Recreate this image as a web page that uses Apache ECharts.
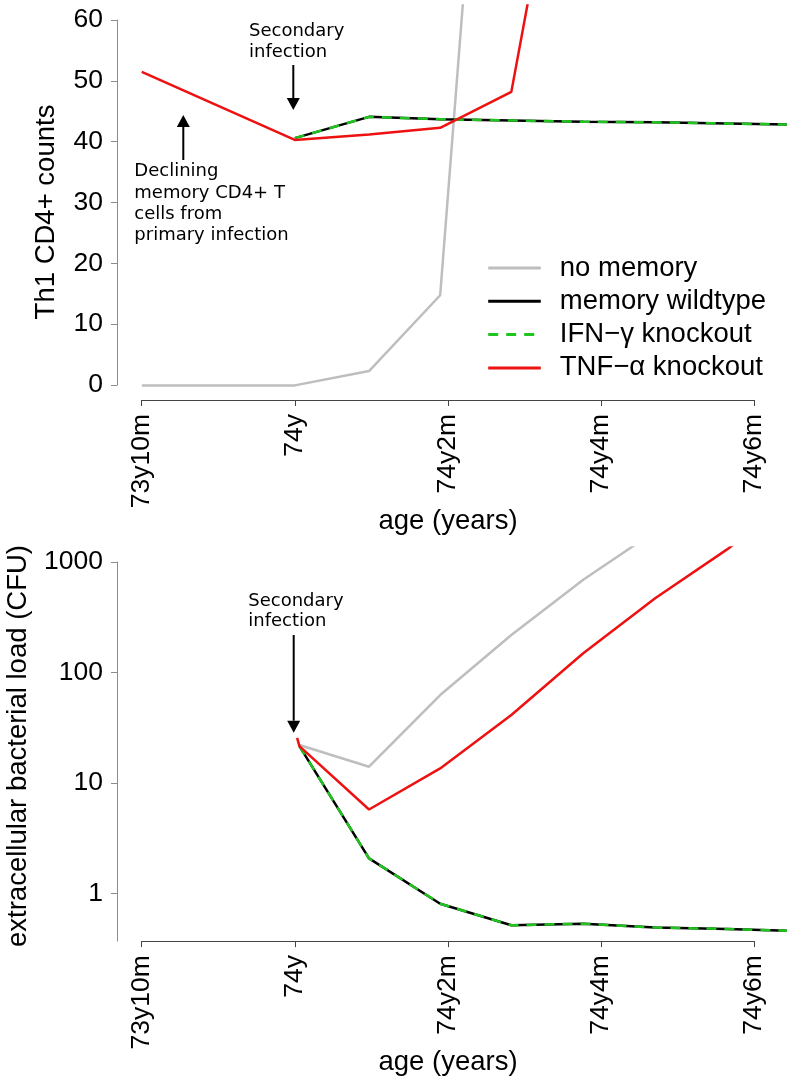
<!DOCTYPE html>
<html>
<head>
<meta charset="utf-8">
<script src="https://cdn.jsdelivr.net/npm/echarts@6/dist/echarts.min.js"></script>
<style>
  html, body { margin: 0; padding: 0; background: #fff; }
  #chart { width: 787px; height: 1085px; }
</style>
</head>
<body>
<div id="chart"></div>
<script>
// time axis: months relative to age 74y (secondary infection)
const monthsTh1 = [-2, -1, 0, 0.97, 1.9, 2.83, 3.77, 4.71, 5.65, 6.59]
const noMemoryTh1 = [0, 0, 0, 2.35, 14.8, 165, null, null, null, null]
const wildtypeTh1 = [null, null, 40.6, 44.1, 43.7, 43.5, 43.3, 43.2, 43.0, 42.8]
const ifngKoTh1 = [null, null, 40.6, 44.1, 43.7, 43.5, 43.3, 43.2, 43.0, 42.8]
const tnfaKoTh1 = [51.5, 45.9, 40.3, 41.2, 42.3, 48.2, 112, null, null, null]

const monthsCfu = [0.03, 0.06, 0.97, 1.9, 2.83, 3.77, 4.71, 5.65, 6.59]
const noMemoryCfu = [null, 22, 14.0, 62.4, 218, 689, 1900, null, null]
const wildtypeCfu = [null, 21.5, 2.07, 0.805, 0.513, 0.531, 0.49, 0.475, 0.455]
const ifngKoCfu = [null, 21.5, 2.07, 0.805, 0.513, 0.531, 0.49, 0.475, 0.455]
const tnfaKoCfu = [25.5, 21.5, 5.74, 13.5, 41.1, 149, 470, 1300, 4000]

const tickMonths = [-2, 0, 2, 4, 6]
const tickLabels = ['73y10m', '74y', '74y2m', '74y4m', '74y6m']
const cfuTicks = [1, 10, 100, 1000]

const seriesNames = ['no memory', 'memory wildtype', 'IFN\u2212\u03b3 knockout', 'TNF\u2212\u03b1 knockout']

const SANS = 'Liberation Sans, Arial, sans-serif'
const NOTE = 'DejaVu Sans, sans-serif'
const FS = 26.5   // tick labels
const FT = 27.5   // axis titles, legend

const chart = echarts.init(document.getElementById('chart'), null, { renderer: 'canvas' })

const pairs = (xs, ys) => xs.map((x, i) => [x, ys[i]])

const lineStyles = [
  { color: '#bebebe', width: 2.5 },
  { color: '#000000', width: 2.5 },
  { color: '#1fc41f', width: 2.5, type: [10, 8] },
  { color: '#ee1111', width: 2.5 },
]

const makeSeries = (axisIdx, xs, lists) =>
  lists.map((ys, i) => ({
    name: seriesNames[i],
    type: 'line',
    xAxisIndex: axisIdx,
    yAxisIndex: axisIdx,
    data: pairs(xs, ys),
    showSymbol: false,
    symbol: 'none',
    connectNulls: false,
    lineStyle: lineStyles[i],
    itemStyle: { color: lineStyles[i].color },
    animation: false,
    z: 2 + i,
  }))

const xVisible = {
  type: 'value',
  min: -2,
  max: 6,
  interval: 2,
  axisLine: { show: true, onZero: false, lineStyle: { color: '#444', width: 1 } },
  axisTick: { show: true, length: 6, lineStyle: { color: '#444' } },
  axisLabel: {
    rotate: 90,
    margin: 14,
    fontSize: FS,
    fontFamily: SANS,
    color: '#000',
    showMinLabel: true,
    showMaxLabel: true,
    formatter: (v) => tickLabels[tickMonths.indexOf(Math.round(v))] || '',
  },
  splitLine: { show: false },
}

const yLabel = { margin: 14, fontSize: FS, fontFamily: SANS, color: '#000' }
const yLine = { show: true, onZero: false, lineStyle: { color: '#8c8c8c', width: 1 } }
const yTick = { show: true, length: 6, lineStyle: { color: '#8c8c8c' } }

const dataX = { type: 'value', min: -2.324, max: 6.42, show: false }

const arrow = (x, y1, y2) => {
  const dir = y2 > y1 ? 1 : -1
  const base = y2 - dir * 12
  return [
    { type: 'line', shape: { x1: x, y1: y1, x2: x, y2: base }, style: { stroke: '#000', lineWidth: 2 } },
    {
      type: 'polygon',
      shape: { points: [[x - 6.5, base], [x + 6.5, base], [x, y2]] },
      style: { fill: '#000' },
    },
  ]
}

const noteText = (x, y, text, lh) => ({
  type: 'text',
  x: x,
  y: y,
  style: { text: text, font: '18px ' + NOTE, fill: '#000', lineHeight: lh, textVerticalAlign: 'top' },
})

const title = (x, y, text, rot) => ({
  type: 'text',
  x: x,
  y: y,
  rotation: rot,
  style: { text: text, font: FT + 'px ' + SANS, fill: '#000', textAlign: 'center', textVerticalAlign: 'middle' },
})

const option = {
  animation: false,
  backgroundColor: '#fff',
  grid: [
    { left: 117, top: 5.4, width: 669, height: 394.6, outerBoundsMode: 'none' },
    { left: 141.7, top: 5.4, width: 612.3, height: 394.6, outerBoundsMode: 'none' },
    { left: 117, top: 20, width: 669, height: 365, outerBoundsMode: 'none' },
    { left: 117, top: 547.4, width: 669, height: 393.7, outerBoundsMode: 'none' },
    { left: 141.7, top: 547.4, width: 612.3, height: 393.7, outerBoundsMode: 'none' },
    { left: 117, top: 562, width: 669, height: 379.1, outerBoundsMode: 'none' },
  ],
  xAxis: [
    { ...dataX, gridIndex: 0 },
    { ...xVisible, gridIndex: 1 },
    { type: 'value', gridIndex: 2, show: false },
    { ...dataX, gridIndex: 3 },
    { ...xVisible, gridIndex: 4 },
    { type: 'value', gridIndex: 5, show: false },
  ],
  yAxis: [
    { type: 'value', gridIndex: 0, min: -2.4, max: 62.4, show: false },
    { type: 'value', gridIndex: 1, min: 0, max: 1, show: false },
    {
      type: 'value',
      gridIndex: 2,
      min: 0,
      max: 60,
      interval: 10,
      axisLine: yLine,
      axisTick: yTick,
      axisLabel: yLabel,
      splitLine: { show: false },
    },
    { type: 'log', gridIndex: 3, min: 0.369, max: 1355, show: false },
    { type: 'value', gridIndex: 4, min: 0, max: 1, show: false },
    {
      type: 'log',
      gridIndex: 5,
      min: 0.369,
      max: 1000,
      axisLine: yLine,
      axisTick: { ...yTick, customValues: cfuTicks },
      axisLabel: { ...yLabel, customValues: cfuTicks, formatter: (v) => String(Math.round(v)) },
      splitLine: { show: false },
      minorTick: { show: false },
    },
  ],
  legend: {
    orient: 'vertical',
    left: 481.7,
    top: 249,
    itemWidth: 52.6,
    itemHeight: 14,
    itemGap: 5.3,
    selectedMode: false,
    data: seriesNames,
    itemStyle: { color: 'rgba(0,0,0,0)', borderWidth: 0, opacity: 0 },
    lineStyle: { width: 3 },
    textStyle: { fontSize: FT, fontFamily: SANS, color: '#000', lineHeight: 25, padding: [0, 0, 0, 14] },
  },
  series: [
    ...makeSeries(0, monthsTh1, [noMemoryTh1, wildtypeTh1, ifngKoTh1, tnfaKoTh1]),
    ...makeSeries(3, monthsCfu, [noMemoryCfu, wildtypeCfu, ifngKoCfu, tnfaKoCfu]),
  ],
  graphic: [
    noteText(249, 21.3, 'Secondary\ninfection', 20.7),
    noteText(134.3, 161, 'Declining\nmemory CD4+ T\ncells from\nprimary infection', 21.3),
    noteText(248.3, 590.6, 'Secondary\ninfection', 20.7),
    ...arrow(293.3, 65, 110),
    ...arrow(183.3, 160, 115),
    ...arrow(293.7, 635, 732.7),
    title(46, 212, 'Th1 CD4+ counts', Math.PI / 2),
    title(448, 521, 'age (years)', 0),
    title(18, 746, 'extracellular bacterial load (CFU)', Math.PI / 2),
    title(448, 1062, 'age (years)', 0),
  ],
}

chart.setOption(option)
</script>
</body>
</html>
